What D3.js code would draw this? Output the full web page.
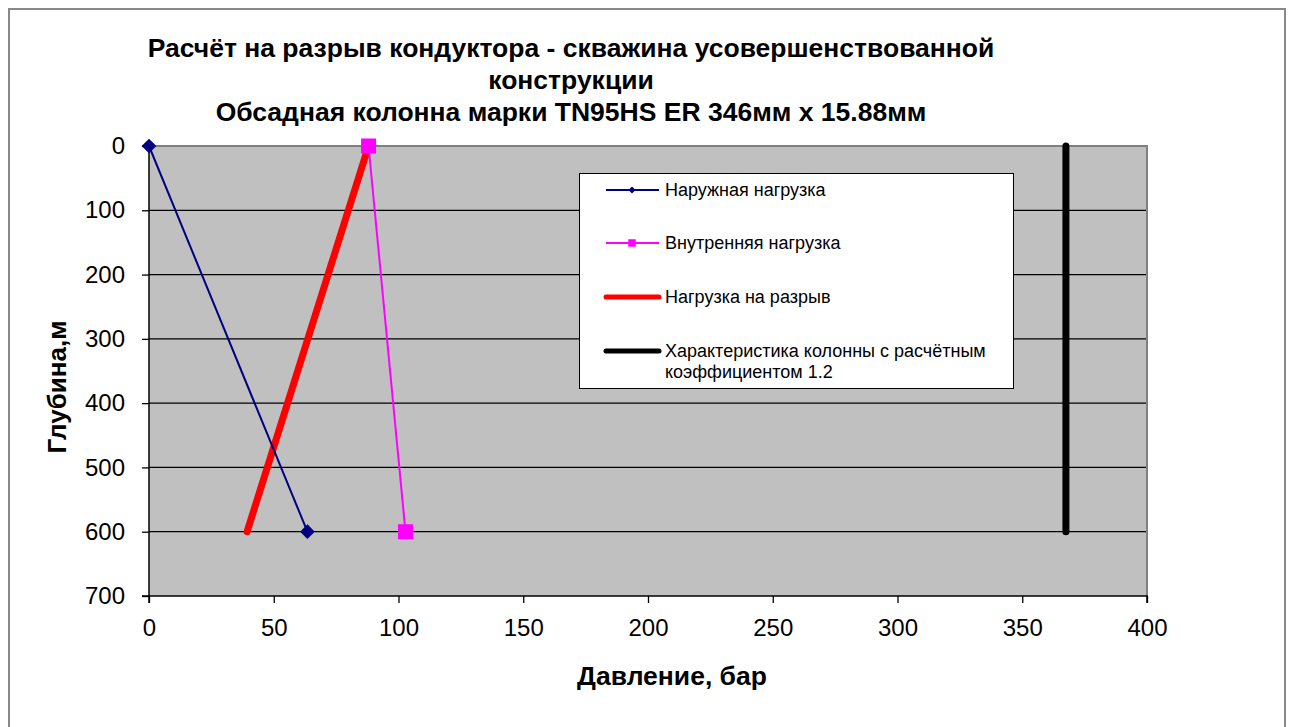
<!DOCTYPE html>
<html><head><meta charset="utf-8">
<script src="https://cdn.jsdelivr.net/npm/d3@7"></script>
<style>html,body{margin:0;padding:0;background:#fff;}svg{display:block;font-family:Arial,"Liberation Sans",sans-serif;}</style>
</head><body>
<svg id="c" width="1292" height="727"></svg>
<script>
const titleLines = ["Расчёт на разрыв кондуктора - скважина усовершенствованной","конструкции","Обсадная колонна марки TN95HS ER 346мм x 15.88мм"];
const xTitle = "Давление, бар";
const yTitle = "Глубина,м";
const xTicks = [0,50,100,150,200,250,300,350,400];
const yTicks = [0,100,200,300,400,500,600,700];
const depth = [0,600];
const outerLoad = [0,63.5];
const innerLoad = [88,102.8];
const burstLoad = [88,39.3];
const columnRating = [367.5,367.5];
const seriesNames = ["Наружная нагрузка","Внутренняя нагрузка","Нагрузка на разрыв","Характеристика колонны с расчётным коэффициентом 1.2"];

const FF = "Arial, 'Liberation Sans', sans-serif";
const svg = d3.select("#c");
const L=149,R=1147,T=146,B=596;
const x = d3.scaleLinear().domain([0,400]).range([L,R]);
const y = d3.scaleLinear().domain([0,700]).range([T,B]);

// outer border
svg.append("rect").attr("x",9).attr("y",9).attr("width",1276).attr("height",740).attr("fill","#fff").attr("stroke","#888").attr("stroke-width",2);

// title
const tt = svg.append("text").attr("text-anchor","middle").attr("font-weight","bold").attr("font-size",26.5).attr("fill","#000");
[56.5,88.5,120.5].forEach((b,i)=>tt.append("tspan").attr("x",571).attr("y",b).text(titleLines[i]));

// plot area
svg.append("rect").attr("x",L).attr("y",T).attr("width",R-L).attr("height",B-T).attr("fill","#c0c0c0");
// grid
svg.append("g").selectAll("line").data(yTicks.filter(d=>d>0&&d<700)).join("line")
  .attr("x1",L).attr("x2",R).attr("y1",d=>y(d)).attr("y2",d=>y(d)).attr("stroke","#000").attr("stroke-width",1.3);
// top/right border
svg.append("path").attr("d",`M${L},${T}H${R}V${B}`).attr("fill","none").attr("stroke","#808080").attr("stroke-width",2);

// axes
const xa = svg.append("g").attr("transform",`translate(0,${B})`).call(d3.axisBottom(x).tickValues(xTicks).tickSize(7));
const ya = svg.append("g").attr("transform",`translate(${L},0)`).call(d3.axisLeft(y).tickValues(yTicks).tickSize(7).tickPadding(17));
[xa,ya].forEach(a=>{a.select(".domain").attr("stroke","#000").attr("stroke-width",1.5);
  a.selectAll(".tick line").attr("stroke","#000").attr("stroke-width",1.3);
  a.selectAll("text").attr("font-size",24).attr("fill","#000").attr("font-family",FF);});
xa.selectAll("text").attr("y",40).attr("dy",0);
xa.select(".domain").attr("d",`M${L},7V0H${R}V7`);
ya.select(".domain").attr("d",`M-7,${T}H0V${B}H-7`);

// axis titles
svg.append("text").attr("x",672).attr("y",685).attr("text-anchor","middle").attr("font-weight","bold").attr("font-size",26.5).text(xTitle);
svg.append("text").attr("transform","translate(66,387) rotate(-90)").attr("text-anchor","middle").attr("font-weight","bold").attr("font-size",26).text(yTitle);

const line = d3.line().x(d=>x(d[0])).y(d=>y(d[1]));
const pts = arr => arr.map((v,i)=>[v,depth[i]]);
const g = svg.append("g");
g.append("path").attr("d",line(pts(burstLoad))).attr("fill","none").attr("stroke","#ff0000").attr("stroke-width",7).attr("stroke-linecap","round");
g.append("path").attr("d",line(pts(columnRating))).attr("fill","none").attr("stroke","#000").attr("stroke-width",7).attr("stroke-linecap","round");
g.append("path").attr("d",line(pts(outerLoad))).attr("fill","none").attr("stroke","#000080").attr("stroke-width",2);
g.append("path").attr("d",line(pts(innerLoad))).attr("fill","none").attr("stroke","#ff00ff").attr("stroke-width",2);
g.selectAll(".dm").data(pts(outerLoad)).join("path").attr("transform",d=>`translate(${x(d[0])},${y(d[1])}) rotate(45)`)
  .attr("d",d3.symbol(d3.symbolSquare,108)()).attr("fill","#000080");
g.selectAll(".sq").data(pts(innerLoad)).join("path").attr("transform",d=>`translate(${x(d[0])},${y(d[1])})`)
  .attr("d",d3.symbol(d3.symbolSquare,225)()).attr("fill","#ff00ff");

// legend
const lg = svg.append("g");
lg.append("rect").attr("x",579.5).attr("y",173.5).attr("width",434).attr("height",215).attr("fill","#fff").attr("stroke","#000").attr("stroke-width",1);
const rows=[190,243,297,351];
const styles=[{c:"#000080",w:2,m:"d"},{c:"#ff00ff",w:2,m:"s"},{c:"#ff0000",w:5},{c:"#000",w:5}];
rows.forEach((ry,i)=>{
  lg.append("line").attr("x1",606).attr("x2",659).attr("y1",ry).attr("y2",ry).attr("stroke",styles[i].c).attr("stroke-width",styles[i].w).attr("stroke-linecap",styles[i].w>2?"round":"butt");
  if(styles[i].m==="d") lg.append("path").attr("transform",`translate(632,${ry}) rotate(45)`).attr("d",d3.symbol(d3.symbolSquare,26)()).attr("fill",styles[i].c);
  if(styles[i].m==="s") lg.append("path").attr("transform",`translate(632,${ry})`).attr("d",d3.symbol(d3.symbolSquare,56)()).attr("fill",styles[i].c);
});
const lt=[[seriesNames[0]],[seriesNames[1]],[seriesNames[2]],["Характеристика колонны с расчётным","коэффициентом 1.2"]];
lt.forEach((ls,i)=>{
  const t=lg.append("text").attr("font-size",18).attr("fill","#000");
  ls.forEach((s,j)=>t.append("tspan").attr("x",665).attr("y",rows[i]+6+j*20.5).text(s));
});
</script>
</body></html>
